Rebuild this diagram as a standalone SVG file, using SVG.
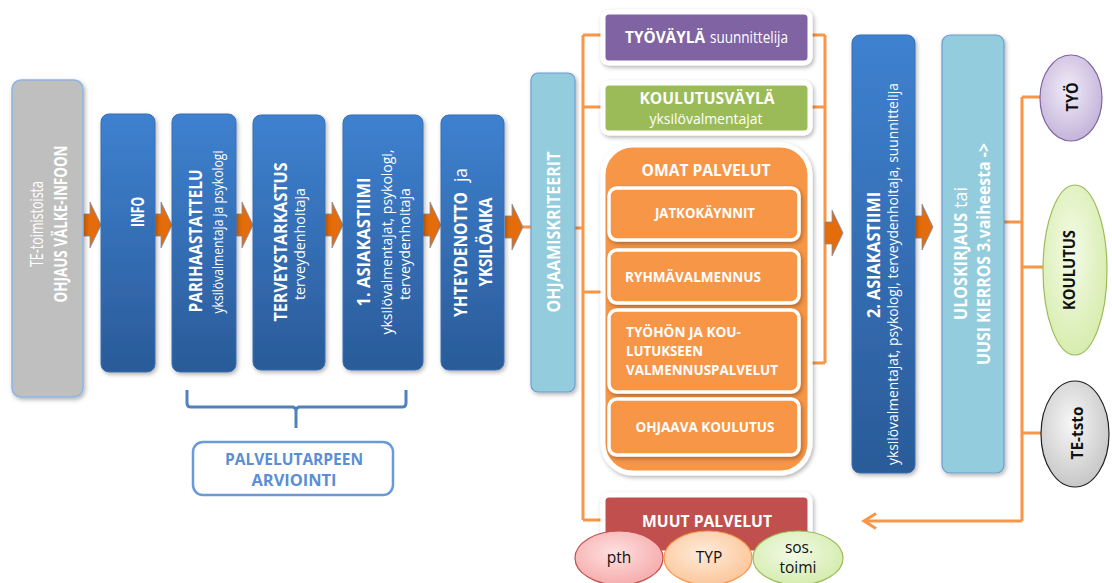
<svg xmlns="http://www.w3.org/2000/svg" width="1112" height="583" viewBox="0 0 1112 583">
<style>
text{font-family:"Open Sans","Liberation Sans",sans-serif;}
.w{fill:#fff;}
.b{font-weight:bold;}
.t17{font-size:17.5px;}
.t16{font-size:16.5px;}
.t15{font-size:15.5px;}
.t14{font-size:15px;}
.blue{fill:url(#blueGrad);stroke:#3a6fb0;stroke-width:1;}
.lb{fill:#93CDDD;stroke:#6E9BD0;stroke-width:1.2;}
.orng{fill:#F79646;stroke:#fff;}
.conn{fill:none;stroke:#F79646;stroke-width:3;}
.barrow{fill:#E46C0A;stroke:#7a8fb5;stroke-width:0.8;}
.dark{fill:#111;}
</style>
<defs>
<linearGradient id="blueGrad" x1="0" y1="0" x2="0" y2="1">
<stop offset="0" stop-color="#3E81D0"/>
<stop offset="1" stop-color="#2A5B99"/>
</linearGradient>
<radialGradient id="gPur" cx="0.45" cy="0.4" r="0.65"><stop offset="0" stop-color="#F1ECF7"/><stop offset="1" stop-color="#C1B0D8"/></radialGradient>
<radialGradient id="gGrn" cx="0.45" cy="0.4" r="0.65"><stop offset="0" stop-color="#F4FBE8"/><stop offset="1" stop-color="#D5ECAA"/></radialGradient>
<radialGradient id="gGry" cx="0.45" cy="0.4" r="0.65"><stop offset="0" stop-color="#F7F7F7"/><stop offset="1" stop-color="#C4C4C4"/></radialGradient>
<radialGradient id="gPink" cx="0.45" cy="0.4" r="0.65"><stop offset="0" stop-color="#FFE0E0"/><stop offset="1" stop-color="#F5A8A8"/></radialGradient>
<radialGradient id="gPeach" cx="0.45" cy="0.4" r="0.65"><stop offset="0" stop-color="#FFEBDA"/><stop offset="1" stop-color="#FBC496"/></radialGradient>
<radialGradient id="gLg" cx="0.45" cy="0.4" r="0.65"><stop offset="0" stop-color="#F2FAE6"/><stop offset="1" stop-color="#D2EBAA"/></radialGradient>
<filter id="sh" x="-20%" y="-20%" width="140%" height="140%">
<feDropShadow dx="1.5" dy="2" stdDeviation="2" flood-color="#000" flood-opacity="0.3"/>
</filter>
<marker id="openArrow" markerWidth="16" markerHeight="18" refX="13" refY="9" orient="auto" markerUnits="userSpaceOnUse">
<path d="M1,1.5 L13,9 L1,16.5" fill="none" stroke="#F79646" stroke-width="3"/>
</marker>
</defs>

<g id="connectors">
<path class="conn" d="M523,227 H531"/>
<path class="conn" d="M575,228 H583"/>
<path class="conn" d="M583,35 V520"/>
<path class="conn" d="M583,35 H603 M583,107 H603 M583,292 H603 M583,520 H603"/>
<path class="conn" d="M808,35 H825 M808,107 H825 M810,363 H825 M825,35 V363"/>
<path class="conn" d="M1004,222 H1022 M1022,97 V521 M1022,97 H1040 M1022,267 H1043 M1022,433 H1041"/>
<path class="conn" d="M1022,521 H864" marker-end="url(#openArrow)"/>
<path class="barrow" d="M83,214 H90 V202 L101,225 L90,248 V236 H83 Z"/>
<path class="barrow" d="M155,214 H161 V202 L172,225 L161,248 V236 H155 Z"/>
<path class="barrow" d="M236,214 H242 V202 L253,225 L242,248 V236 H236 Z"/>
<path class="barrow" d="M325,214 H332 V202 L343,225 L332,248 V236 H325 Z"/>
<path class="barrow" d="M423,214 H430 V202 L441,225 L430,248 V236 H423 Z"/>
<path class="barrow" d="M505,216 H512 V204 L523,227 L512,250 V238 H505 Z"/>
<path class="barrow" d="M825,222 H832 V210 L843,233 L832,256 V244 H825 Z"/>
<path class="barrow" d="M915,216 H922 V204 L933,227 L922,250 V238 H915 Z"/>
<path d="M187,390 V403 Q187,407 191,407 H292 Q296,407 296,411 V428 M296,411 Q296,407 300,407 H402 Q406,407 406,403 V390" fill="none" stroke="#4F81BD" stroke-width="3"/>
</g>

<g id="node-te">
<rect x="12" y="80" width="71" height="317" rx="9" fill="#BFBFBF" stroke="#8EB4E3" stroke-width="1.5" filter="url(#sh)"/>
<text class="w t17" transform="translate(43,224) rotate(-90)" text-anchor="middle" textLength="86" lengthAdjust="spacingAndGlyphs">TE-toimistoista</text>
<text class="w b t17" transform="translate(67,224) rotate(-90)" text-anchor="middle" textLength="157" lengthAdjust="spacingAndGlyphs">OHJAUS VÄLKE-INFOON</text>
</g>

<g id="node-info">
<rect class="blue" x="101" y="114" width="54" height="258" rx="8" filter="url(#sh)"/>
<text class="w b t17" transform="translate(144,212) rotate(-90)" text-anchor="middle" textLength="30" lengthAdjust="spacingAndGlyphs">INFO</text>
</g>

<g id="node-pari">
<rect class="blue" x="172" y="114" width="64" height="258" rx="8" filter="url(#sh)"/>
<text class="w b t17" transform="translate(202,241) rotate(-90)" text-anchor="middle" textLength="143" lengthAdjust="spacingAndGlyphs">PARIHAASTATTELU</text>
<text class="w t14" transform="translate(223,232) rotate(-90)" text-anchor="middle" textLength="163" lengthAdjust="spacingAndGlyphs">yksilövalmentaja ja psykologi</text>
</g>

<g id="node-terv">
<rect class="blue" x="253" y="115" width="72" height="255" rx="8" filter="url(#sh)"/>
<text class="w b t17" transform="translate(287,242) rotate(-90)" text-anchor="middle" textLength="159" lengthAdjust="spacingAndGlyphs">TERVEYSTARKASTUS</text>
<text class="w t14" transform="translate(305,244) rotate(-90)" text-anchor="middle" textLength="112" lengthAdjust="spacingAndGlyphs">terveydenhoitaja</text>
</g>

<g id="node-asiakastiimi1">
<rect class="blue" x="343" y="115" width="80" height="255" rx="8" filter="url(#sh)"/>
<text class="w b t17" transform="translate(370,242) rotate(-90)" text-anchor="middle" textLength="129" lengthAdjust="spacingAndGlyphs">1. ASIAKASTIIMI</text>
<text class="w t14" transform="translate(392,242) rotate(-90)" text-anchor="middle" textLength="185" lengthAdjust="spacingAndGlyphs">yksilövalmentajat, psykologi,</text>
<text class="w t14" transform="translate(410,244) rotate(-90)" text-anchor="middle" textLength="112" lengthAdjust="spacingAndGlyphs">terveydenhoitaja</text>
</g>

<g id="node-yht">
<rect class="blue" x="441" y="115" width="63" height="255" rx="8" filter="url(#sh)"/>
<text class="w b t17" transform="translate(467,317) rotate(-90)" textLength="125" lengthAdjust="spacingAndGlyphs">YHTEYDENOTTO</text>
<text class="w t17" transform="translate(467,182) rotate(-90)" textLength="14" lengthAdjust="spacingAndGlyphs">ja</text>
<text class="w b t17" transform="translate(492,242) rotate(-90)" text-anchor="middle" textLength="89" lengthAdjust="spacingAndGlyphs">YKSILÖAIKA</text>
</g>

<g id="node-ohjaamis">
<rect class="lb" x="531" y="73" width="44" height="319" rx="7" filter="url(#sh)"/>
<text class="w b t17" transform="translate(560,232) rotate(-90)" text-anchor="middle" textLength="161" lengthAdjust="spacingAndGlyphs">OHJAAMISKRITEERIT</text>
</g>

<g id="node-tyovayla">
<rect x="603" y="12" width="207" height="51" rx="6" fill="#8064A2" stroke="#fff" stroke-width="5" filter="url(#sh)"/>
<text class="w b t16" x="625" y="43" textLength="80" lengthAdjust="spacingAndGlyphs">TYÖVÄYLÄ</text>
<text class="w t16" x="710" y="43" textLength="78" lengthAdjust="spacingAndGlyphs">suunnittelija</text>
</g>

<g id="node-koulutusvayla">
<rect x="603" y="83" width="207" height="50" rx="6" fill="#9BBB59" stroke="#fff" stroke-width="5" filter="url(#sh)"/>
<text class="w b t16" x="707" y="104" text-anchor="middle" textLength="135" lengthAdjust="spacingAndGlyphs">KOULUTUSVÄYLÄ</text>
<text class="w" x="706" y="124" text-anchor="middle" font-size="14" textLength="113" lengthAdjust="spacingAndGlyphs">yksilövalmentajat</text>
</g>

<g id="node-omat">
<rect class="orng" x="603" y="145" width="207" height="328" rx="30" stroke-width="5" filter="url(#sh)"/>
<text class="w b t16" x="706" y="176" text-anchor="middle" textLength="129" lengthAdjust="spacingAndGlyphs">OMAT PALVELUT</text>
<g id="node-jatko">
<rect class="orng" x="609" y="188" width="190" height="52" rx="8" stroke-width="3.5" filter="url(#sh)"/>
<text class="w b t14" x="705" y="218" text-anchor="middle" textLength="100" lengthAdjust="spacingAndGlyphs">JATKOKÄYNNIT</text>
</g>
<g id="node-ryhma">
<rect class="orng" x="609" y="250" width="190" height="53" rx="8" stroke-width="3.5" filter="url(#sh)"/>
<text class="w b t14" x="625" y="282" textLength="136" lengthAdjust="spacingAndGlyphs">RYHMÄVALMENNUS</text>
</g>
<g id="node-tyohon">
<rect class="orng" x="609" y="310" width="190" height="82" rx="8" stroke-width="3.5" filter="url(#sh)"/>
<text class="w b t14" x="626" y="337" textLength="115" lengthAdjust="spacingAndGlyphs">TYÖHÖN JA KOU-</text>
<text class="w b t14" x="626" y="356" textLength="77" lengthAdjust="spacingAndGlyphs">LUTUKSEEN</text>
<text class="w b t14" x="626" y="375" textLength="152" lengthAdjust="spacingAndGlyphs">VALMENNUSPALVELUT</text>
</g>
<g id="node-ohjaava">
<rect class="orng" x="609" y="399" width="190" height="56" rx="8" stroke-width="3.5" filter="url(#sh)"/>
<text class="w b t14" x="705" y="432" text-anchor="middle" textLength="139" lengthAdjust="spacingAndGlyphs">OHJAAVA KOULUTUS</text>
</g>
</g>

<g id="node-muut">
<rect x="603" y="495" width="207" height="58" rx="6" fill="#C0504D" stroke="#fff" stroke-width="5" filter="url(#sh)"/>
<text class="w b t16" x="707" y="527" text-anchor="middle" textLength="130" lengthAdjust="spacingAndGlyphs">MUUT PALVELUT</text>
</g>

<g id="node-pth">
<ellipse cx="619" cy="558" rx="44" ry="27" fill="url(#gPink)" stroke="#C0504D" stroke-width="1.2"/>
<text class="dark t15" x="619" y="563" text-anchor="middle">pth</text>
</g>
<g id="node-typ">
<ellipse cx="708" cy="558" rx="44" ry="27" fill="url(#gPeach)" stroke="#F79646" stroke-width="1.2"/>
<text class="dark t15" x="709" y="563" text-anchor="middle">TYP</text>
</g>
<g id="node-sos">
<ellipse cx="798" cy="558" rx="45" ry="27" fill="url(#gLg)" stroke="#9BBB59" stroke-width="1.2"/>
<text class="dark t15" x="799" y="553" text-anchor="middle">sos.</text>
<text class="dark t15" x="798" y="573" text-anchor="middle">toimi</text>
</g>

<g id="node-palvelutarpeen">
<rect x="193" y="442" width="200" height="53" rx="10" fill="#fff" stroke="#6A9BD8" stroke-width="2.5"/>
<text class="b t16" x="294" y="465" text-anchor="middle" fill="#5A8ED6" textLength="138" lengthAdjust="spacingAndGlyphs">PALVELUTARPEEN</text>
<text class="b t16" x="294" y="486" text-anchor="middle" fill="#5A8ED6" textLength="85" lengthAdjust="spacingAndGlyphs">ARVIOINTI</text>
</g>

<g id="node-asiakastiimi2">
<rect class="blue" x="852" y="35" width="63" height="438" rx="8" filter="url(#sh)"/>
<text class="w b t17" transform="translate(880,255) rotate(-90)" text-anchor="middle" textLength="126" lengthAdjust="spacingAndGlyphs">2. ASIAKASTIIMI</text>
<text class="w t14" transform="translate(898,274) rotate(-90)" text-anchor="middle" textLength="382" lengthAdjust="spacingAndGlyphs">yksilövalmentajat, psykologi, terveydenhoitaja, suunnittelija</text>
</g>

<g id="node-ulos">
<rect class="lb" x="942" y="35" width="62" height="438" rx="8" filter="url(#sh)"/>
<text class="w b t17" transform="translate(967,320) rotate(-90)" textLength="107" lengthAdjust="spacingAndGlyphs">ULOSKIRJAUS</text>
<text class="w t17" transform="translate(967,208) rotate(-90)" textLength="21" lengthAdjust="spacingAndGlyphs">tai</text>
<text class="w b t17" transform="translate(990,254) rotate(-90)" text-anchor="middle" textLength="222" lengthAdjust="spacingAndGlyphs">UUSI KIERROS 3.vaiheesta -&gt;</text>
</g>

<g id="node-tyo">
<ellipse cx="1071" cy="98" rx="31" ry="43" fill="url(#gPur)" stroke="#8064A2" stroke-width="1.2"/>
<text class="dark b t16" transform="translate(1078,97) rotate(-90)" text-anchor="middle" textLength="29" lengthAdjust="spacingAndGlyphs">TYÖ</text>
</g>
<g id="node-koulutus">
<ellipse cx="1075" cy="270" rx="32" ry="85" fill="url(#gGrn)" stroke="#9BBB59" stroke-width="1.2"/>
<text class="dark b t16" transform="translate(1075,270) rotate(-90)" text-anchor="middle" textLength="80" lengthAdjust="spacingAndGlyphs">KOULUTUS</text>
</g>
<g id="node-tetsto">
<ellipse cx="1075" cy="434" rx="34" ry="53" fill="url(#gGry)" stroke="#222" stroke-width="1.2"/>
<text class="dark b t16" transform="translate(1083,433) rotate(-90)" text-anchor="middle" textLength="53" lengthAdjust="spacingAndGlyphs">TE-tsto</text>
</g>
</svg>
